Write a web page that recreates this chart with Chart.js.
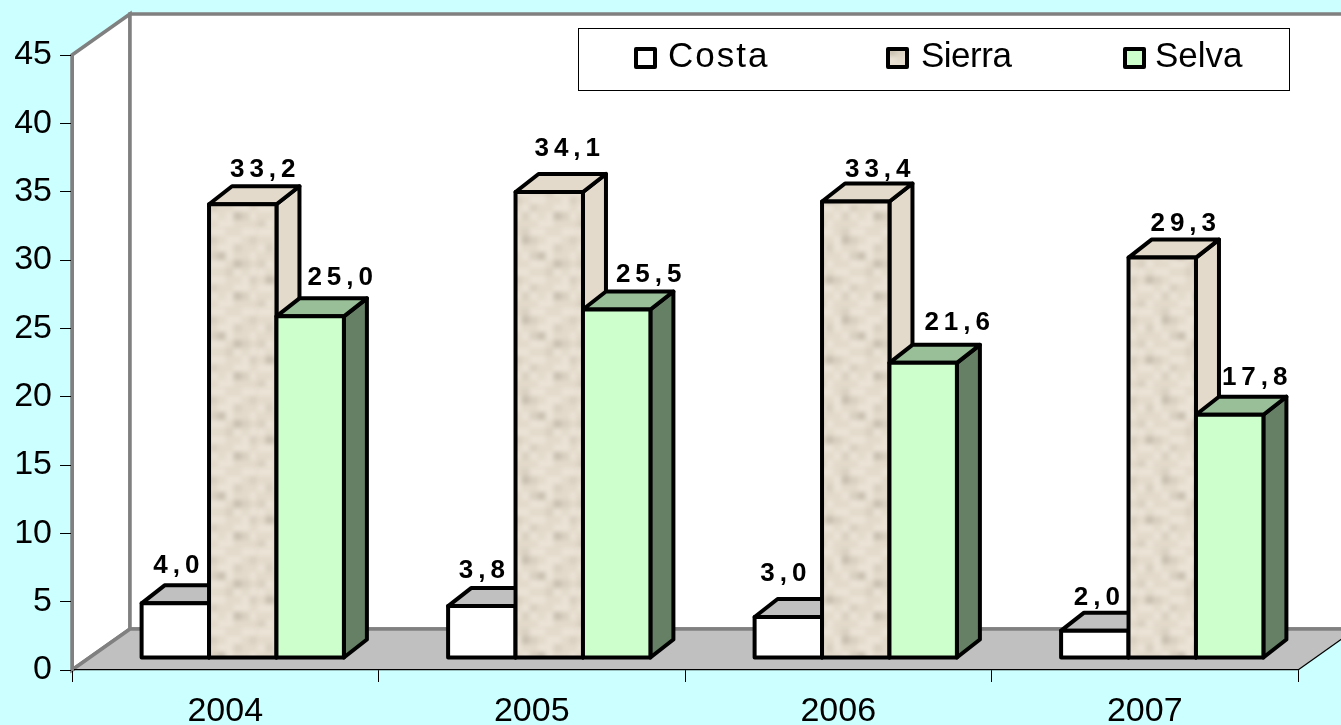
<!DOCTYPE html>
<html>
<head>
<meta charset="utf-8">
<title>Costa Sierra Selva</title>
<script src="https://cdn.jsdelivr.net/npm/chart.js@4/dist/chart.umd.min.js"></script>
<style>
  html, body { margin: 0; padding: 0; background: #ccffff; overflow: hidden; }
  canvas { display: block; }
</style>
</head>
<body>
<canvas id="chart" width="1341" height="725"></canvas>
<script>
const years = ["2004", "2005", "2006", "2007"];
const costa = [4.0, 3.8, 3.0, 2.0];
const sierra = [33.2, 34.1, 33.4, 29.3];
const selva = [25.0, 25.5, 21.6, 17.8];
const seriesNames = ["Costa", "Sierra", "Selva"];

const FONT = '"Liberation Sans", Arial, sans-serif';
const WALL_DX = 58;
const WALL_DY = -41;
const BAR_SHIFT_X = 17.5;
const BAR_SHIFT_Y = -12;
const BAR_DX = 23;
const BAR_DY = -18;
const OUTLINE = 4;

// mottled stone fill of the Sierra bars
const stoneRows = [
  "1102110011",
  "0013201102",
  "1210011200",
  "0001231001",
  "2100110320",
  "1011002101",
  "0320110012",
  "1101200110",
  "0012101321",
  "2100011000",
];
const stoneShades = ["#e3dacb", "#ebe3d6", "#d9d0c1", "#c9c0b1"];

function stonePattern(ctx) {
  const cell = 8;
  const raw = document.createElement("canvas");
  raw.width = cell * stoneRows[0].length;
  raw.height = cell * stoneRows.length;
  const r = raw.getContext("2d");
  stoneRows.forEach((row, y) => {
    [...row].forEach((c, x) => {
      r.fillStyle = stoneShades[+c];
      r.fillRect(x * cell, y * cell, cell, cell);
    });
  });
  // soften the cells, drawing the neighbours too so the tile still wraps
  const tile = document.createElement("canvas");
  tile.width = raw.width;
  tile.height = raw.height;
  const t = tile.getContext("2d");
  t.fillStyle = stoneShades[0];
  t.fillRect(0, 0, tile.width, tile.height);
  t.filter = "blur(2px)";
  [-1, 0, 1].forEach((dy) => {
    [-1, 0, 1].forEach((dx) => {
      t.drawImage(raw, dx * raw.width, dy * raw.height);
    });
  });
  return ctx.createPattern(tile, "repeat");
}

const canvas = document.getElementById("chart");
const stone = stonePattern(canvas.getContext("2d"));

const faceColors = [
  { front: "#ffffff", top: "#c0c0c0", side: "#c0c0c0" },
  { front: stone, top: "#e3dacb", side: "#e3dacb" },
  { front: "#ccffcc", top: "#99bf99", side: "#668066" },
];

// where each value label sits relative to its bar's top, one row per series
const labelNudge = [
  [[1, -38], [0, -35], [-5, -43], [2, -33]],
  [[20, -34], [18, -43], [22, -32], [21, -34]],
  [[30, -39], [32, -35], [34, -40], [25, -37]],
];

const legendBox = { x: 578, y: 28, w: 711, h: 62 };
const legendItems = [
  { box: 636, text: 668, spacing: 2 },
  { box: 888, text: 921, spacing: -0.5 },
  { box: 1125, text: 1155, spacing: 0 },
];

function poly(ctx, pts) {
  ctx.beginPath();
  pts.forEach((p, i) => (i ? ctx.lineTo(p[0], p[1]) : ctx.moveTo(p[0], p[1])));
  ctx.closePath();
}

const walls = {
  id: "walls",
  beforeDraw(chart) {
    const ctx = chart.ctx;
    const { left, right, top, bottom } = chart.chartArea;
    const backL = left + WALL_DX;
    const backR = right + WALL_DX;
    const backT = top + WALL_DY;
    const backB = bottom + WALL_DY;

    ctx.save();
    ctx.fillStyle = "#ccffff";
    ctx.fillRect(0, 0, chart.width, chart.height);

    ctx.fillStyle = "#ffffff";
    ctx.strokeStyle = "#808080";
    ctx.lineWidth = 3.5;
    poly(ctx, [[left, top], [backL, backT], [backL, backB], [left, bottom]]);
    ctx.fill();
    ctx.stroke();
    poly(ctx, [[backL, backT], [backR, backT], [backR, backB], [backL, backB]]);
    ctx.fill();
    ctx.stroke();

    ctx.fillStyle = "#c0c0c0";
    poly(ctx, [[left, bottom], [backL, backB], [backR, backB], [right, bottom]]);
    ctx.fill();
    ctx.beginPath();
    ctx.moveTo(left, bottom);
    ctx.lineTo(backL, backB);
    ctx.lineTo(backR, backB);
    ctx.stroke();
    ctx.strokeStyle = "#000000";
    ctx.lineWidth = 1.2;
    ctx.beginPath();
    ctx.moveTo(right, bottom);
    ctx.lineTo(backR, backB);
    ctx.stroke();
    ctx.restore();
  },
};

function barRect(el) {
  const p = el.getProps(["x", "y", "base", "width"], true);
  return { l: p.x - p.width / 2, r: p.x + p.width / 2, t: p.y, b: p.base };
}

const bars3d = {
  id: "bars3d",
  // chart.js paints the first series last, here the left bar has to go first
  beforeDatasetDraw() {
    return false;
  },
  afterDatasetsDraw(chart) {
    const ctx = chart.ctx;
    ctx.save();
    ctx.translate(BAR_SHIFT_X, BAR_SHIFT_Y);
    ctx.strokeStyle = "#000000";
    ctx.lineWidth = OUTLINE;
    ctx.lineJoin = "round";
    chart.data.datasets.forEach((ds, i) => {
      const colors = faceColors[i];
      chart.getDatasetMeta(i).data.forEach((el) => {
        const { l, r, t, b } = barRect(el);
        poly(ctx, [[r, t], [r + BAR_DX, t + BAR_DY], [r + BAR_DX, b + BAR_DY], [r, b]]);
        ctx.fillStyle = colors.side;
        ctx.fill();
        ctx.stroke();
        poly(ctx, [[l, t], [l + BAR_DX, t + BAR_DY], [r + BAR_DX, t + BAR_DY], [r, t]]);
        ctx.fillStyle = colors.top;
        ctx.fill();
        ctx.stroke();
        el.draw(ctx);
        ctx.strokeRect(l, t, r - l, b - t);
      });
    });
    ctx.restore();

    ctx.save();
    ctx.fillStyle = "#000000";
    ctx.font = "bold 26px " + FONT;
    ctx.letterSpacing = "5px";
    ctx.textAlign = "center";
    ctx.textBaseline = "middle";
    chart.data.datasets.forEach((ds, i) => {
      chart.getDatasetMeta(i).data.forEach((el, j) => {
        const p = el.getProps(["x", "y"], true);
        const text = ds.data[j].toFixed(1).replace(".", ",");
        const nudge = labelNudge[i][j];
        ctx.fillText(text, p.x + BAR_SHIFT_X + nudge[0] + 2.5, p.y + BAR_SHIFT_Y + nudge[1]);
      });
    });
    ctx.restore();
  },
};

const legendPanel = {
  id: "legendPanel",
  afterDraw(chart) {
    const ctx = chart.ctx;
    ctx.save();
    ctx.fillStyle = "#ffffff";
    ctx.strokeStyle = "#000000";
    ctx.lineWidth = 1;
    ctx.fillRect(legendBox.x, legendBox.y, legendBox.w, legendBox.h);
    ctx.strokeRect(legendBox.x + 0.5, legendBox.y + 0.5, legendBox.w, legendBox.h);
    ctx.font = "35px " + FONT;
    ctx.textBaseline = "middle";
    chart.data.datasets.forEach((ds, i) => {
      const item = legendItems[i];
      ctx.fillStyle = faceColors[i].front;
      ctx.lineWidth = OUTLINE;
      ctx.lineJoin = "round";
      ctx.fillRect(item.box, 49, 19, 18);
      ctx.strokeRect(item.box, 49, 19, 18);
      ctx.fillStyle = "#000000";
      ctx.letterSpacing = item.spacing + "px";
      ctx.fillText(ds.label, item.text, 57);
    });
    ctx.restore();
  },
};

new Chart(canvas, {
  type: "bar",
  data: {
    labels: years,
    datasets: [costa, sierra, selva].map((values, i) => ({
      label: seriesNames[i],
      data: values,
      backgroundColor: faceColors[i].front,
      borderWidth: 0,
    })),
  },
  options: {
    responsive: false,
    animation: false,
    layout: { padding: { top: 55, right: 43, left: 0, bottom: 0 } },
    categoryPercentage: 0.66,
    barPercentage: 1,
    plugins: {
      legend: { display: false },
      tooltip: { enabled: false },
    },
    scales: {
      x: {
        afterFit(scale) { scale.height = 55; },
        grid: { drawOnChartArea: false, color: "#000000", tickLength: 12 },
        border: { color: "#000000", width: 1.2 },
        ticks: { color: "#000000", font: { family: FONT, size: 34 }, padding: 9, maxRotation: 0 },
      },
      y: {
        min: 0,
        max: 45,
        afterFit(scale) { scale.width = 72; },
        grid: { drawOnChartArea: false, color: "#000000", tickLength: 12 },
        border: { color: "#808080", width: 3 },
        ticks: { color: "#000000", stepSize: 5, font: { family: FONT, size: 34 }, padding: 8 },
      },
    },
  },
  plugins: [walls, bars3d, legendPanel],
});
</script>
</body>
</html>
